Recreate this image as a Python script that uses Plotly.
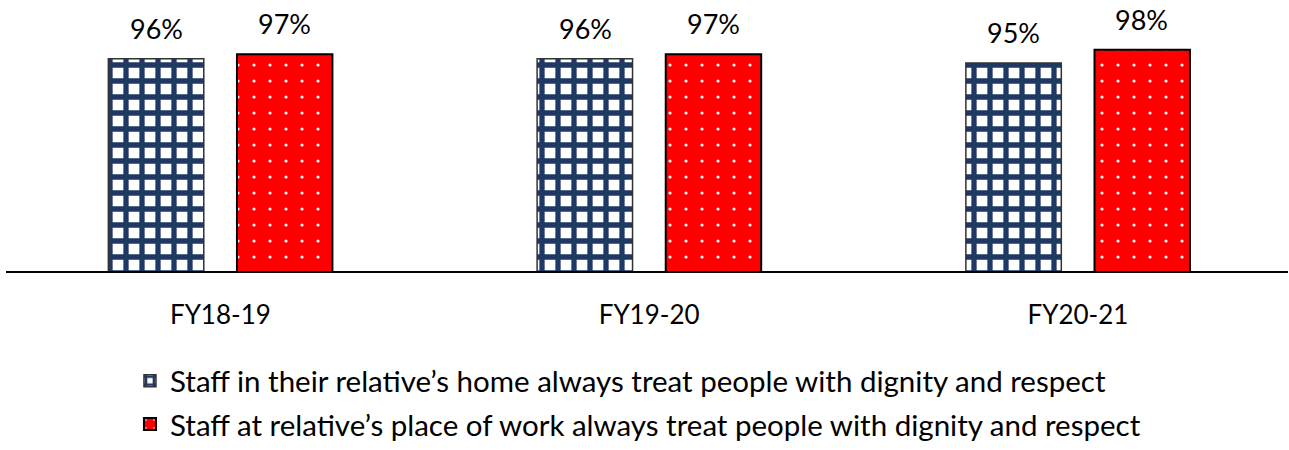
import plotly.graph_objects as go

# data
years = ["FY18-19", "FY19-20", "FY20-21"]
home_pct = [0.96, 0.96, 0.95]
work_pct = [0.97, 0.97, 0.98]
home_name = "Staff in their relative\u2019s home always treat people with dignity and respect"
work_name = "Staff at relative\u2019s place of work always treat people with dignity and respect"

FONT = "Lato"
NAVY = "#1f3864"
RED = "#ff0000"

fig = go.Figure()

fig.add_trace(go.Bar(
    x=years, y=home_pct, name=home_name, legendgroup="home",
    marker=dict(
        color="white",
        line=dict(color="#333333", width=1.5),
        pattern=dict(shape="+", fgcolor=NAVY, bgcolor="white",
                     size=16, solidity=0.55, fillmode="replace"),
    ),
))
fig.add_trace(go.Bar(
    x=years, y=work_pct, name=work_name, legendgroup="work",
    marker=dict(
        color=RED,
        line=dict(color="black", width=2),
        pattern=dict(shape=".", fgcolor="white", bgcolor=RED,
                     size=16, solidity=0.03, fillmode="replace"),
    ),
))

# value labels above each bar
for i, yr in enumerate(years):
    for val, shift in ((home_pct[i], -64), (work_pct[i], 64)):
        fig.add_annotation(
            x=yr, y=val, xref="x", yref="y",
            text=f"{round(val * 100)}%",
            showarrow=False, xshift=shift, yshift=12, yanchor="bottom",
            font=dict(family=FONT, size=27, color="black"),
        )

fig.update_layout(
    width=1289, height=450,
    margin=dict(l=6, r=1, t=41, b=178),
    paper_bgcolor="white", plot_bgcolor="white",
    barmode="group", bargap=0.40, bargroupgap=0.258,
    font=dict(family=FONT, size=27, color="black"),
    showlegend=True,
    legend=dict(
        orientation="v", x=0.0967, xanchor="left",
        y=-0.36, yanchor="top",
        font=dict(family=FONT, size=29.5, color="black"),
        tracegroupgap=2, itemwidth=30,
    ),
    xaxis=dict(
        range=[-0.5, 2.49],
        showline=True, linecolor="black", linewidth=2,
        showgrid=False, ticks="", ticklabelstandoff=20,
        tickfont=dict(family=FONT, size=26, color="black"),
    ),
    yaxis=dict(range=[0.479, 1.0], visible=False, showgrid=False),
)

# drop the browser's default body margin so the figure sits at the page corner
fig.write_html("out.html", config={"displayModeBar": False},
               post_script="document.body.style.margin='0';")
